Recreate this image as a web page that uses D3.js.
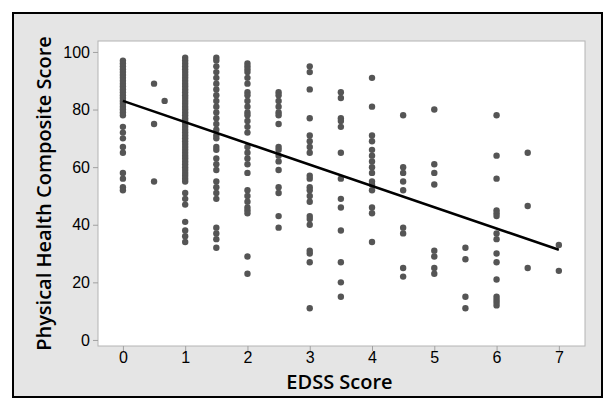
<!DOCTYPE html>
<html>
<head>
<meta charset="utf-8">
<script src="https://cdn.jsdelivr.net/npm/d3@7"></script>
<style>
  body { margin: 0; background: #fff; }
  svg { display: block; font-family: "Open Sans", sans-serif; }
</style>
</head>
<body>
<div id="chart"></div>
<script>
// EDSS score -> Physical Health Composite scores
const col0 = [97, 96, 95, 94, 93, 92, 91, 90, 89, 88, 87, 86, 85, 84, 83, 82, 81, 80, 79, 78, 74, 72, 70, 67, 65, 58, 56, 53, 52];
const col05 = [89, 75, 55];
const col067 = [83];
const col1 = [98, 97, 96, 95, 94, 93, 92, 91, 90, 89, 88, 87, 86, 85, 84, 83, 82, 81, 80, 79, 78, 77, 76, 75, 74, 73, 72, 71, 70, 69, 68, 67, 66, 65, 64, 63, 62, 61, 60, 59, 58, 57, 56, 55, 51, 49, 47, 41, 38, 36, 34];
const col15 = [98, 97, 95, 93, 91, 89, 87, 85, 83, 81, 79, 77, 75, 73, 71, 70, 67, 66, 63, 61, 59, 55, 53, 51, 49, 39, 37, 35, 32];
const col2 = [96, 95, 94, 93, 91, 89, 86, 85, 83, 81, 79, 78, 76, 74, 72, 67, 65, 63, 61, 58, 52, 50, 48, 46, 45, 44, 29, 23];
const col25 = [86, 85, 83, 81, 79, 78, 75, 67, 66, 64, 62, 59, 53, 51, 43, 39];
const col3 = [95, 93, 87, 77, 71, 69, 67, 65, 57, 56, 53, 52, 50, 48, 43, 42, 40, 31, 30, 27, 11];
const col35 = [86, 84, 77, 76, 74, 65, 56, 49, 46, 38, 27, 20, 15];
const col4 = [91, 81, 71, 69, 66, 64, 62, 60, 58, 55, 54, 52, 46, 44, 34];
const col45 = [78, 60, 58, 55, 52, 39, 37, 25, 22];
const col5 = [80, 61, 58, 54, 31, 29, 25, 23];
const col55 = [32, 28, 15, 11];
const col6 = [78, 64, 56, 45, 44, 43, 37, 35, 30, 27, 21, 15, 14, 13, 12];
const col65 = [65, 46.5, 25];
const col7 = [33, 24];

const edss = [0, 0.5, 0.67, 1, 1.5, 2, 2.5, 3, 3.5, 4, 4.5, 5, 5.5, 6, 6.5, 7];
const columns = [col0, col05, col067, col1, col15, col2, col25, col3, col35, col4, col45, col5, col55, col6, col65, col7];

// fitted regression line endpoints
const fitX = [0, 7];
const fitY = [83, 31.3];

const xTicks = [0, 1, 2, 3, 4, 5, 6, 7];
const yTicks = [0, 20, 40, 60, 80, 100];

const points = [];
edss.forEach((e, i) => columns[i].forEach(v => points.push({ x: e, y: v })));

const W = 615, H = 407;
const plot = { left: 98, top: 41, right: 585, bottom: 346 };

const svg = d3.select("#chart").append("svg")
  .attr("width", W).attr("height", H);

// outer frame
svg.append("rect")
  .attr("x", 13).attr("y", 13).attr("width", 589).attr("height", 384)
  .attr("fill", "#e5e5e5").attr("stroke", "#000").attr("stroke-width", 2);

// plot area
svg.append("rect")
  .attr("x", plot.left).attr("y", plot.top)
  .attr("width", plot.right - plot.left).attr("height", plot.bottom - plot.top)
  .attr("fill", "#fff").attr("stroke", "#b4b4b4").attr("stroke-width", 1);

const x = d3.scaleLinear().domain([-0.4, 7.42]).range([plot.left, plot.right]);
const y = d3.scaleLinear().domain([-2.1, 103.8]).range([plot.bottom, plot.top]);

const xAxis = svg.append("g")
  .attr("transform", `translate(0,${plot.bottom})`)
  .call(d3.axisBottom(x).tickValues(xTicks).tickSize(5).tickPadding(1).tickFormat(d3.format("d")));
const yAxis = svg.append("g")
  .attr("transform", `translate(${plot.left},0)`)
  .call(d3.axisLeft(y).tickValues(yTicks).tickSize(5).tickPadding(3).tickFormat(d3.format("d")));

[xAxis, yAxis].forEach(g => {
  g.select(".domain").remove();
  g.selectAll(".tick line").attr("stroke", "#a0a0a0");
  g.selectAll(".tick text").attr("fill", "#000").style("font-size", "16px");
});

// points
svg.append("g").selectAll("circle")
  .data(points)
  .join("circle")
  .attr("cx", d => x(d.x))
  .attr("cy", d => y(d.y))
  .attr("r", 3.2)
  .attr("fill", "#555555");

// regression line
svg.append("line")
  .attr("x1", x(fitX[0])).attr("y1", y(fitY[0]))
  .attr("x2", x(fitX[1])).attr("y2", y(fitY[1]))
  .attr("stroke", "#000").attr("stroke-width", 2.5);

// axis titles
svg.append("text")
  .attr("x", (plot.left + plot.right) / 2 - 2).attr("y", 389)
  .attr("text-anchor", "middle")
  .style("font-size", "20px").style("font-weight", 600)
  .text("EDSS Score");

svg.append("text")
  .attr("transform", `translate(51,${(plot.top + plot.bottom) / 2}) rotate(-90)`)
  .attr("text-anchor", "middle")
  .style("font-size", "20px").style("font-weight", 600)
  .text("Physical Health Composite Score");
</script>
</body>
</html>
